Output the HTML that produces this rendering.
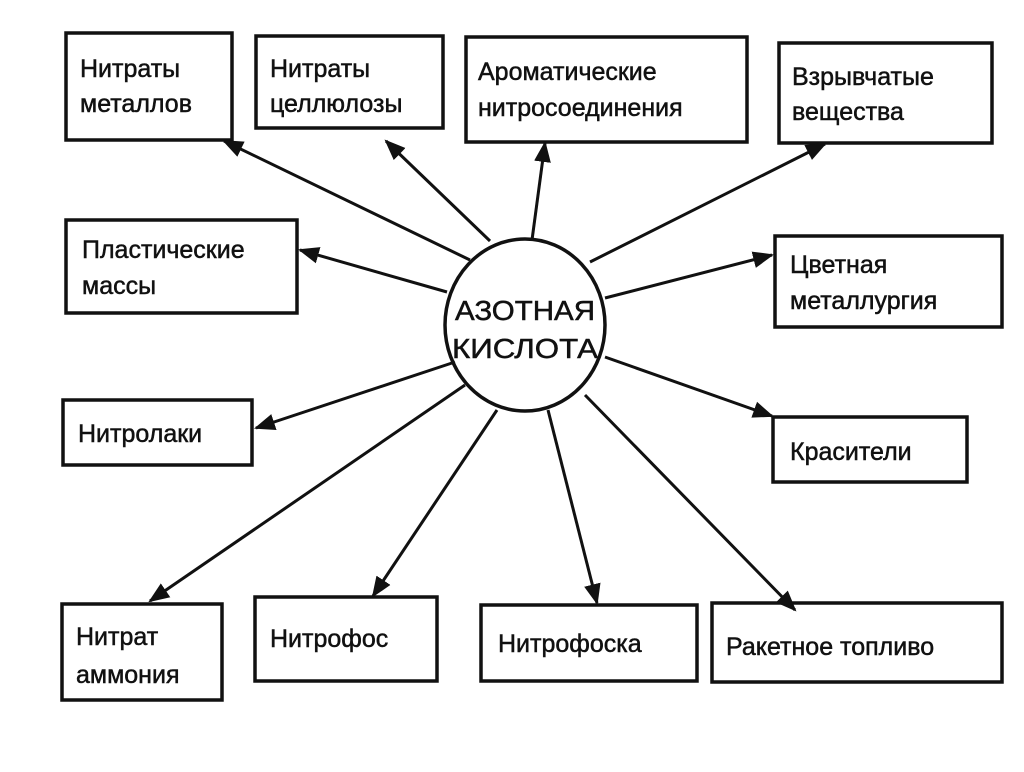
<!DOCTYPE html>
<html><head><meta charset="utf-8"><style>
body{margin:0;background:#fff;}
svg text{font-family:"Liberation Sans",sans-serif;font-size:25px;fill:#111;stroke:#111;stroke-width:0.5;}
</style></head><body>
<svg width="1024" height="767" viewBox="0 0 1024 767" xmlns="http://www.w3.org/2000/svg">
<defs><marker id="a" viewBox="0 0 10 10" refX="9" refY="5" markerWidth="7" markerHeight="7" orient="auto"><path d="M0,1 L10,5 L0,9 z" fill="#111"/></marker></defs>
<g fill="none" stroke="#111" stroke-width="3.5">
<rect x="66" y="33" width="166" height="107"/>
<rect x="256" y="36" width="187" height="92"/>
<rect x="466" y="37" width="281" height="105"/>
<rect x="779" y="43" width="213" height="100"/>
<rect x="66" y="220" width="231" height="93"/>
<rect x="775" y="236" width="227" height="91"/>
<rect x="63" y="400" width="189" height="65"/>
<rect x="773" y="417" width="194" height="65"/>
<rect x="62" y="604" width="160" height="96"/>
<rect x="255" y="597" width="182" height="84"/>
<rect x="481" y="605" width="216" height="76"/>
<rect x="712" y="603" width="290" height="79"/>
<ellipse cx="525" cy="325" rx="80" ry="86"/>
</g>
<g stroke="#111" stroke-width="3" marker-end="url(#a)">
<line x1="470" y1="260" x2="224" y2="141"/>
<line x1="490" y1="241" x2="386" y2="141"/>
<line x1="532" y1="240" x2="545" y2="143"/>
<line x1="590" y1="262" x2="825" y2="144"/>
<line x1="447" y1="292" x2="300" y2="250"/>
<line x1="605" y1="298" x2="772" y2="255"/>
<line x1="455" y1="362" x2="256" y2="428"/>
<line x1="605" y1="357" x2="772" y2="416"/>
<line x1="465" y1="385" x2="150" y2="601"/>
<line x1="497" y1="410" x2="373" y2="596"/>
<line x1="548" y1="410" x2="597" y2="603"/>
<line x1="585" y1="395" x2="795" y2="610"/>
</g>
<text x="80" y="77">Нитраты</text><text x="80" y="112">металлов</text>
<text x="270" y="77">Нитраты</text><text x="270" y="112">целлюлозы</text>
<text x="478" y="80">Ароматические</text><text x="478" y="116">нитросоединения</text>
<text x="792" y="85">Взрывчатые</text><text x="792" y="120">вещества</text>
<text x="82" y="258">Пластические</text><text x="82" y="294">массы</text>
<text x="790" y="273">Цветная</text><text x="790" y="309">металлургия</text>
<text x="78" y="442">Нитролаки</text>
<text x="790" y="460">Красители</text>
<text x="76" y="645">Нитрат</text><text x="76" y="683">аммония</text>
<text x="270" y="647">Нитрофос</text>
<text x="498" y="652">Нитрофоска</text>
<text x="726" y="655">Ракетное топливо</text>
<text x="525" y="320" text-anchor="middle" style="font-size:28px" textLength="140" lengthAdjust="spacingAndGlyphs">АЗОТНАЯ</text>
<text x="525" y="358" text-anchor="middle" style="font-size:28px" textLength="146" lengthAdjust="spacingAndGlyphs">КИСЛОТА</text>
</svg>
</body></html>
